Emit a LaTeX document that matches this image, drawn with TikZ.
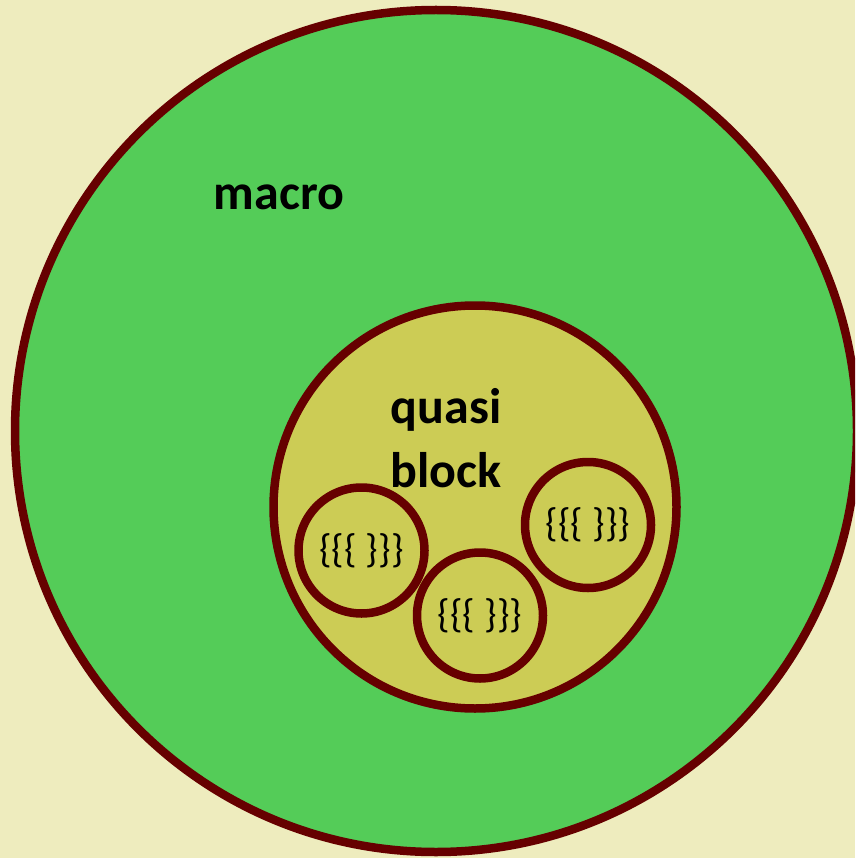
\documentclass[tikz,border=0pt]{standalone}
\usepackage{fontspec}
\setmainfont{Carlito}
\definecolor{bgyellow}{RGB}{238,236,190}
\definecolor{macrogreen}{RGB}{84,204,88}
\definecolor{quasiolive}{RGB}{204,204,85}
\definecolor{ringred}{RGB}{102,0,0}
\begin{document}
\begin{tikzpicture}[x=1pt,y=-1pt,
  ring/.style={circle, draw=ringred, line width=8.5pt, inner sep=0pt, minimum size=#1},
  biglabel/.style={font=\fontsize{50}{60}\selectfont\bfseries, text=black, inner sep=0pt, anchor=base},
  bracelabel/.style={font=\fontsize{40}{48}\selectfont, text=black, inner sep=0pt}]
\fill[bgyellow] (0,0) rectangle (855,858);
\useasboundingbox (0,0) rectangle (855,858);
\clip (0,0) rectangle (855,858);
\node[ring=842pt, fill=macrogreen] (macro) at (436,431) {};
\node[ring=403pt, fill=quasiolive] (quasi) at (475,507) {};
\node[ring=126pt] (b1) at (361.5,550.5) {};
\node[ring=126pt] (b2) at (480,615.5) {};
\node[ring=126pt] (b3) at (588,525) {};
\node[biglabel] (lmacro) at (279,210) {macro};
\node[biglabel] (lquasi) at (446,423) {quasi};
\node[biglabel] (lblock) at (446,487) {block};
\node[bracelabel] (t1) at (b1) {\{\{\{ \}\}\}};
\node[bracelabel] (t2) at (b2) {\{\{\{ \}\}\}};
\node[bracelabel] (t3) at (b3) {\{\{\{ \}\}\}};
\end{tikzpicture}
\end{document}
